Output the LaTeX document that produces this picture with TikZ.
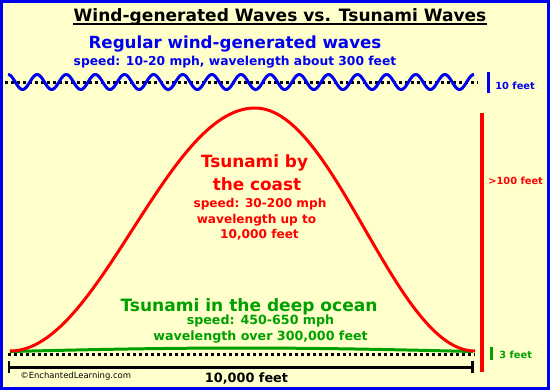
\documentclass[tikz,border=0pt]{standalone}
\usepackage{fontspec}
\setmainfont{DejaVu Sans}
\usepackage{tikz}
\usetikzlibrary{calc}
\usepackage{xcolor}
\definecolor{paper}{HTML}{FFFFCC}
\definecolor{elblue}{HTML}{0000F0}
\definecolor{elred}{HTML}{FF0000}
\definecolor{elgreen}{HTML}{00A000}
\newcommand{\elsize}[1]{\fontsize{#1}{#1}\selectfont\bfseries}

\begin{document}
\begin{tikzpicture}[x=0.02cm, y=-0.02cm,
  lbl/.style={inner sep=0pt, anchor=base},
  side/.style={inner sep=0pt, anchor=base west, font=\elsize{5.6}},
  thickline/.style={line width=1.7pt},
  dotline/.style={black, line width=1.7pt, dash pattern=on 1.7pt off 1.7pt}]
  % Paper and frame
  \useasboundingbox (0,0) rectangle (550,390);
  \fill[paper] (0,0) rectangle (550,390);
  \draw[elblue, line width=1.7pt] (1.5,1.5) rectangle (548.5,388.5);
  % Title
  \node[lbl, font=\elsize{9.7}] (title) at (280,21)
    {Wind-generated Waves vs. Tsunami Waves};
  \draw[line width=0.85pt] ([yshift=-1.7pt]title.base west) -- ([yshift=-1.7pt]title.base east);
  % Wind-generated waves
  \node[lbl, elblue, font=\elsize{9.5}] (regular) at (235,48) {Regular wind-generated waves};
  \node[lbl, elblue, font=\elsize{7.0}] (regspeed) at (235,65)
    {speed: 10-20 mph, wavelength about 300 feet};
  \draw[dotline] (5,82) -- (477,82);
  \draw[elblue, thickline] plot[domain=8:474, samples=400] (\x, {82-7.5*cos(12.3605*(\x-8))});
  \coordinate (regtop) at (488,72);
  \coordinate (regbot) at (488,93);
  \draw[elblue, thickline] (regtop) -- (regbot);
  \node[side, elblue] (regheight) at (495,89) {10 feet};
  % Tsunami in the deep ocean
  \draw[elgreen, thickline] plot[domain=0:180, samples=40] ({10+2.5722*\x}, {351.5-3.5*sin(\x)});
  \draw[dotline] (8,354) -- (474,354);
  \node[lbl, elgreen, font=\elsize{9.7}] (deep) at (249,311) {Tsunami in the deep ocean};
  \node[lbl, elgreen, font=\elsize{7.2}] (deepspeed) at (260.5,324.5) {speed: 450-650 mph};
  \node[lbl, elgreen, font=\elsize{7.2}] (deeplen) at (260.5,340) {wavelength over 300,000 feet};
  \coordinate (deeptop) at (491,347);
  \coordinate (deepbot) at (491,360);
  \draw[elgreen, thickline] (deeptop) -- (deepbot);
  \node[side, elgreen] (deepheight) at (499,358.5) {3 feet};
  % Tsunami by the coast
  \draw[elred, thickline, line join=round]
    plot[domain=0:180, samples=60] ({10+1.3611*\x}, {351-243*(1-cos(\x))/2})
    -- plot[domain=0:180, samples=60] ({255+1.2222*\x}, {108+243*(1-cos(\x))/2});
  \node[lbl, elred, font=\elsize{9.6}] (coast) at (254.5,167) {Tsunami by};
  \node[lbl, elred, font=\elsize{9.6}] (coast2) at (257,190) {the coast};
  \node[lbl, elred, font=\elsize{6.9}] (coastspeed) at (260,207) {speed: 30-200 mph};
  \node[lbl, elred, font=\elsize{6.9}] (coastlen) at (256.5,223) {wavelength up to};
  \node[lbl, elred, font=\elsize{6.9}] (coastlen2) at (259.5,238.5) {10,000 feet};
  \coordinate (coasttop) at (482,113);
  \coordinate (coastbot) at (482,372);
  \draw[elred, line width=2pt] (coasttop) -- (coastbot);
  \node[side, elred] (coastheight) at (488,184) {>100 feet};
  % Distance scale
  \coordinate (scaleL) at (9,367);
  \coordinate (scaleR) at (472,367);
  \draw[thickline] ($(scaleL)+(0,-6)$) -- ($(scaleL)+(0,6)$)
    (scaleL) -- (scaleR)
    ($(scaleR)+(0,-6)$) -- ($(scaleR)+(0,6)$);
  \node[lbl, font=\elsize{7.3}] (scalelbl) at (246.5,382) {10,000 feet};
  \node[inner sep=0pt, anchor=base west, font=\fontsize{4.8}{4.8}\selectfont] (credit) at (20,378)
    {©EnchantedLearning.com};
\end{tikzpicture}
\end{document}
